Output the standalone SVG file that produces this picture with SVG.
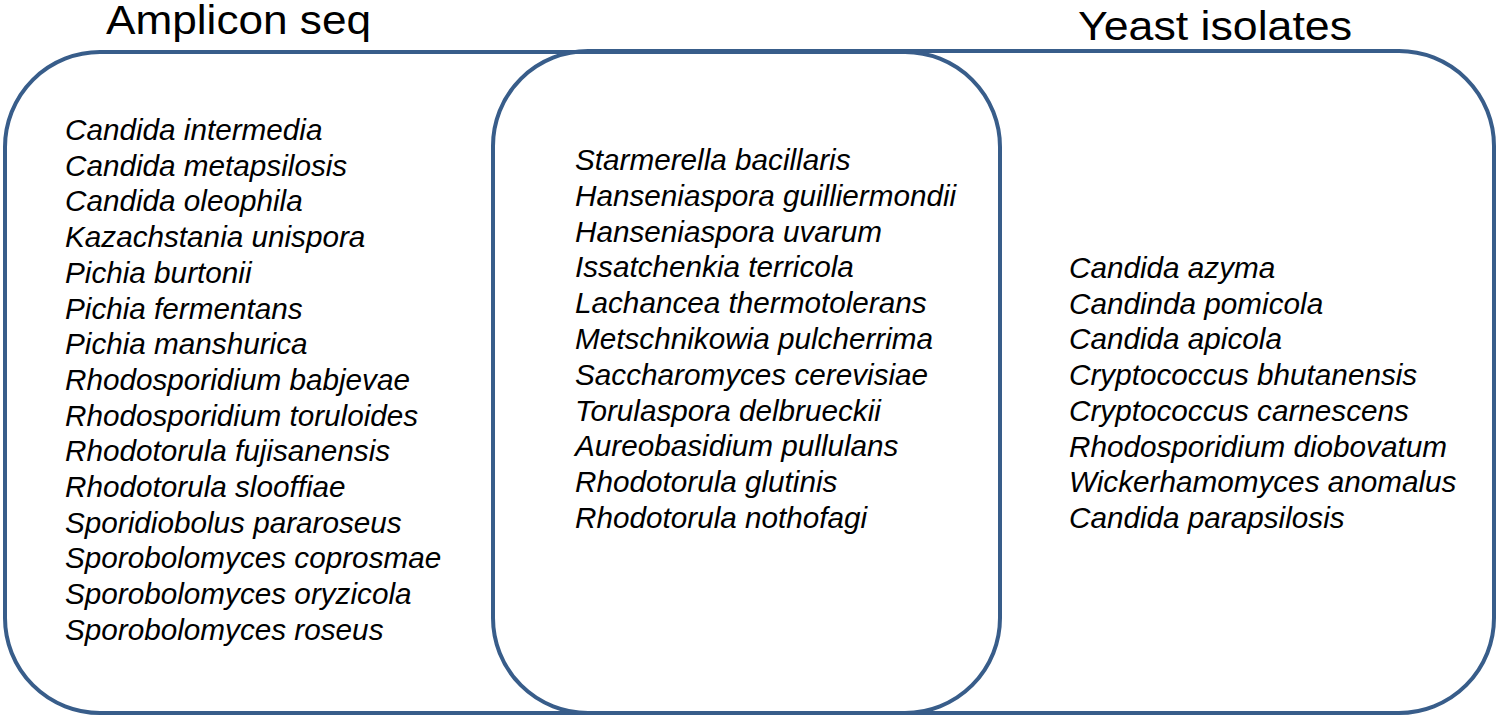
<svg xmlns="http://www.w3.org/2000/svg" width="1500" height="721" viewBox="0 0 1500 721">
<style>
.box{fill:none;stroke:#385D8A;stroke-width:4}
.title{font-family:"Liberation Sans",Arial,sans-serif;font-size:41px;fill:#000}
.sp{font-family:"Liberation Sans",Arial,sans-serif;font-size:29.7px;font-style:italic;fill:#000}
</style>
<rect width="1500" height="721" fill="#fff"/>
<g id="amplicon">
<rect class="box" x="5" y="52" width="995" height="661" rx="95" ry="95"/>
<text class="title" x="106" y="34" textLength="265" lengthAdjust="spacingAndGlyphs">Amplicon seq</text>
<text class="sp" x="65" y="140">Candida intermedia</text>
<text class="sp" x="65" y="175.7">Candida metapsilosis</text>
<text class="sp" x="65" y="211.4">Candida oleophila</text>
<text class="sp" x="65" y="247.1">Kazachstania unispora</text>
<text class="sp" x="65" y="282.8">Pichia burtonii</text>
<text class="sp" x="65" y="318.5">Pichia fermentans</text>
<text class="sp" x="65" y="354.2">Pichia manshurica</text>
<text class="sp" x="65" y="389.9">Rhodosporidium babjevae</text>
<text class="sp" x="65" y="425.6">Rhodosporidium toruloides</text>
<text class="sp" x="65" y="461.3">Rhodotorula fujisanensis</text>
<text class="sp" x="65" y="497">Rhodotorula slooffiae</text>
<text class="sp" x="65" y="532.7">Sporidiobolus pararoseus</text>
<text class="sp" x="65" y="568.4">Sporobolomyces coprosmae</text>
<text class="sp" x="65" y="604.1">Sporobolomyces oryzicola</text>
<text class="sp" x="65" y="639.8">Sporobolomyces roseus</text>
</g>
<g id="yeast">
<rect class="box" x="493" y="51" width="1001" height="662" rx="95" ry="95"/>
<text class="title" x="1078" y="40" textLength="274" lengthAdjust="spacingAndGlyphs">Yeast isolates</text>
<text class="sp" x="1069" y="278">Candida azyma</text>
<text class="sp" x="1069" y="313.7">Candinda pomicola</text>
<text class="sp" x="1069" y="349.4">Candida apicola</text>
<text class="sp" x="1069" y="385.1">Cryptococcus bhutanensis</text>
<text class="sp" x="1069" y="420.8">Cryptococcus carnescens</text>
<text class="sp" x="1069" y="456.5">Rhodosporidium diobovatum</text>
<text class="sp" x="1069" y="492.2">Wickerhamomyces anomalus</text>
<text class="sp" x="1069" y="527.9">Candida parapsilosis</text>
</g>
<g id="shared">
<text class="sp" x="575" y="170">Starmerella bacillaris</text>
<text class="sp" x="575" y="205.8">Hanseniaspora guilliermondii</text>
<text class="sp" x="575" y="241.6">Hanseniaspora uvarum</text>
<text class="sp" x="575" y="277.4">Issatchenkia terricola</text>
<text class="sp" x="575" y="313.2">Lachancea thermotolerans</text>
<text class="sp" x="575" y="349">Metschnikowia  pulcherrima</text>
<text class="sp" x="575" y="384.8">Saccharomyces cerevisiae</text>
<text class="sp" x="575" y="420.6">Torulaspora delbrueckii</text>
<text class="sp" x="575" y="456.4">Aureobasidium pullulans</text>
<text class="sp" x="575" y="492.2">Rhodotorula glutinis</text>
<text class="sp" x="575" y="528">Rhodotorula nothofagi</text>
</g>
<g id="connectors"/>
</svg>
